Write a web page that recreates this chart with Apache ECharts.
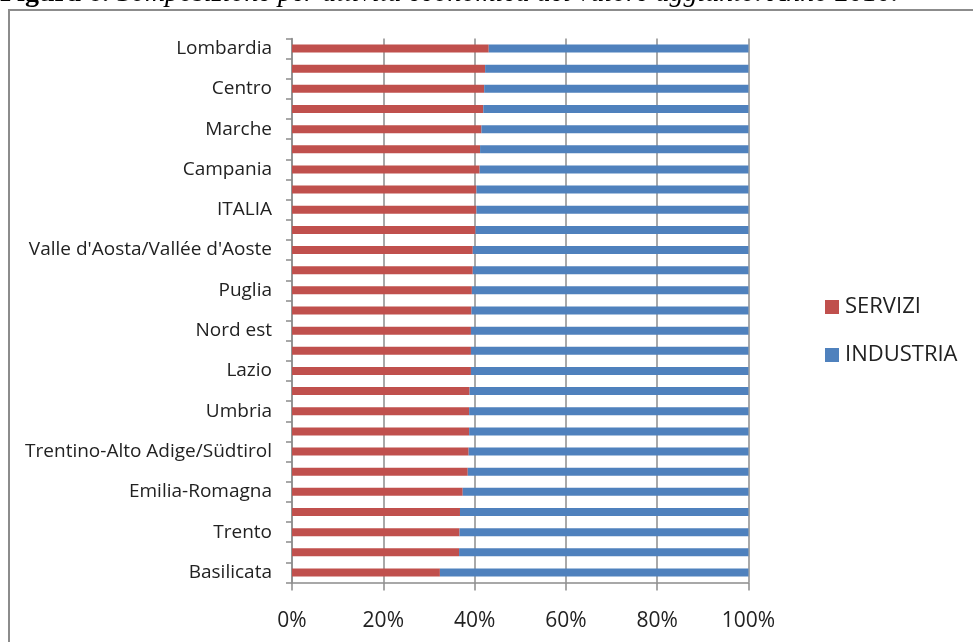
<!DOCTYPE html>
<html>
<head>
<meta charset="utf-8">
<title>Composizione per attività economica del valore aggiunto</title>
<script src="https://cdn.jsdelivr.net/npm/echarts@6/dist/echarts.min.js"></script>
<style>
  html, body { margin: 0; padding: 0; background: #fff; }
  #chart { width: 973px; height: 642px; }
</style>
</head>
<body>
<div id="chart"></div>
<script>
// Regions and territorial aggregates, top to bottom
const categories = [
  'Lombardia', 'Nord ovest', 'Centro', 'Toscana', 'Marche', 'Veneto',
  'Campania', 'Piemonte', 'ITALIA', 'Liguria', "Valle d'Aosta/Vallée d'Aoste",
  'Abruzzo', 'Puglia', 'Friuli-Venezia Giulia', 'Nord est', 'Sicilia', 'Lazio',
  'Mezzogiorno', 'Umbria', 'Sardegna', 'Trentino-Alto Adige/Südtirol',
  'Bolzano/Bozen', 'Emilia-Romagna', 'Calabria', 'Trento', 'Molise', 'Basilicata'
];

// Share of value added (%), 2010
const servizi = [
  43.1, 42.3, 42.1, 41.9, 41.5, 41.2,
  41.1, 40.4, 40.4, 40.2, 39.6,
  39.6, 39.4, 39.3, 39.2, 39.2, 39.2,
  38.9, 38.8, 38.8, 38.7,
  38.5, 37.4, 36.8, 36.7, 36.6, 32.4
];
const industria = [
  56.9, 57.7, 57.9, 58.1, 58.5, 58.8,
  58.9, 59.6, 59.6, 59.8, 60.4,
  60.4, 60.6, 60.7, 60.8, 60.8, 60.8,
  61.1, 61.2, 61.2, 61.3,
  61.5, 62.6, 63.2, 63.3, 63.4, 67.6
];

const xTicks = [0, 20, 40, 60, 80, 100];

const RED = '#C0504D';
const BLUE = '#4F81BD';
const AXIS_GRAY = '#8C8C8C';
const TEXT = '#222222';
const SANS = '"Open Sans", "Liberation Sans", sans-serif';
const SERIF = '"Liberation Serif", "DejaVu Serif", serif';

const chart = echarts.init(document.getElementById('chart'), null, { renderer: 'canvas' });

chart.setOption({
  animation: false,
  backgroundColor: '#ffffff',
  graphic: [
    {
      type: 'rect',
      silent: true,
      shape: { x: 9, y: 10, width: 1000, height: 700 },
      style: { fill: 'none', stroke: AXIS_GRAY, lineWidth: 2 }
    },
    {
      type: 'text',
      silent: true,
      x: 0,
      y: -6,
      style: {
        text: '{b|Figura 6.} {i|Composizione per attività economica del valore aggiunto. Anno 2010.}',
        verticalAlign: 'middle',
        fill: '#000',
        rich: {
          b: { font: 'bold 28px ' + SERIF, fill: '#000', lineHeight: 28 },
          i: { font: 'italic 28px ' + SERIF, fill: '#000', lineHeight: 28 }
        }
      }
    }
  ],
  grid: { left: 292, right: 224.5, top: 38.5, bottom: 59.5, containLabel: false },
  legend: {
    orient: 'vertical',
    left: 820,
    top: 291,
    itemWidth: 14,
    itemHeight: 14,
    itemGap: 26,
    icon: 'rect',
    textStyle: { fontFamily: SANS, fontSize: 22, color: TEXT, padding: [0, 0, 0, 1] },
    data: ['SERVIZI', 'INDUSTRIA']
  },
  xAxis: {
    type: 'value',
    min: xTicks[0],
    max: xTicks[xTicks.length - 1],
    interval: 20,
    axisLine: { show: true, lineStyle: { color: AXIS_GRAY, width: 1.5 } },
    axisTick: { show: true, length: 8, lineStyle: { color: AXIS_GRAY, width: 1.5 } },
    splitLine: { show: true, lineStyle: { color: AXIS_GRAY, width: 1.5 } },
    axisLabel: {
      margin: 28,
      fontFamily: SANS,
      fontSize: 21,
      color: TEXT,
      formatter: v => v + '%'
    }
  },
  yAxis: {
    type: 'category',
    inverse: true,
    data: categories,
    axisLine: { show: true, lineStyle: { color: AXIS_GRAY, width: 1.5 } },
    axisTick: { show: true, length: 6, interval: 0, lineStyle: { color: AXIS_GRAY, width: 1.5 } },
    axisLabel: {
      interval: 1,
      margin: 20,
      fontFamily: SANS,
      fontSize: 19,
      color: TEXT
    }
  },
  series: [
    {
      name: 'SERVIZI',
      type: 'bar',
      stack: 'quota',
      barWidth: 8,
      itemStyle: { color: RED },
      data: servizi
    },
    {
      name: 'INDUSTRIA',
      type: 'bar',
      stack: 'quota',
      barWidth: 8,
      itemStyle: { color: BLUE },
      data: industria
    }
  ]
});
</script>
</body>
</html>
